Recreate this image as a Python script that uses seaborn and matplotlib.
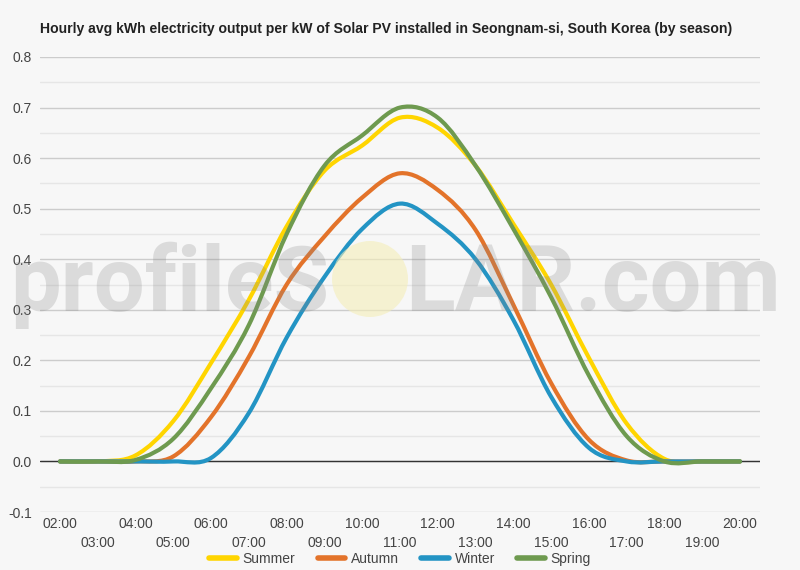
import numpy as np
import pandas as pd
import matplotlib
matplotlib.use("Agg")
import matplotlib.pyplot as plt
import seaborn as sns
from matplotlib.path import Path
from matplotlib.patches import PathPatch, Ellipse
from matplotlib.ticker import FixedLocator, MultipleLocator

# hourly averages (kWh per kW installed)
hours = list(range(2, 21))
summer = [0, 0, 0.012, 0.08, 0.195, 0.32, 0.465, 0.575, 0.625, 0.68, 0.66, 0.585, 0.47, 0.35, 0.205, 0.075, 0.005, 0, 0]
autumn = [0, 0, 0, 0.01, 0.088, 0.207, 0.35, 0.445, 0.522, 0.57, 0.537, 0.458, 0.31, 0.155, 0.043, 0.002, 0, 0, 0]
winter = [0, 0, 0, 0, 0.007, 0.096, 0.245, 0.365, 0.46, 0.51, 0.47, 0.40, 0.28, 0.128, 0.027, 0, 0, 0, 0]
spring = [0, 0, 0.003, 0.045, 0.145, 0.27, 0.45, 0.585, 0.645, 0.70, 0.68, 0.585, 0.46, 0.325, 0.17, 0.05, 0.0, 0, 0]

seasons = ["Summer", "Autumn", "Winter", "Spring"]
colors = ["#FFD500", "#E3732A", "#2394C4", "#6E9A4F"]
hour_labels = [f"{h:02d}:00" for h in hours]

title = "Hourly avg kWh electricity output per kW of Solar PV installed in Seongnam-si, South Korea (by season)"

df = pd.DataFrame({
    "hour": hours * 4,
    "kwh": summer + autumn + winter + spring,
    "season": np.repeat(seasons, len(hours)),
})

bg = "#f7f7f7"
sns.set_theme(style="white", rc={"figure.facecolor": bg, "axes.facecolor": bg})
plt.rcParams["font.family"] = ["Liberation Sans", "DejaVu Sans"]


def smooth_path(xy):
    # catmull-rom style bezier through the points (like the original "function" curve)
    n = len(xy)
    verts = [xy[0]]
    codes = [Path.MOVETO]
    for i in range(n - 1):
        p0 = xy[max(i - 1, 0)]
        p1 = xy[i]
        p2 = xy[i + 1]
        p3 = xy[min(i + 2, n - 1)]
        verts += [p1 + (p2 - p0) / 6, p2 - (p3 - p1) / 6, p2]
        codes += [Path.CURVE4] * 3
    return Path(verts, codes)


fig = plt.figure(figsize=(8, 5.7), dpi=100)
ax = fig.add_axes([40 / 800, 58 / 570, 720 / 800, 455 / 570])

sns.lineplot(data=df, x="hour", y="kwh", hue="season", hue_order=seasons,
             palette=colors, linewidth=3, ax=ax)

# swap the straight segments for smooth curves through the same points
for line in list(ax.lines):
    xy = line.get_xydata()
    if len(xy) < 2:
        continue
    col = line.get_color()
    line.remove()
    ax.add_patch(PathPatch(smooth_path(xy), facecolor="none", edgecolor=col,
                           lw=3, capstyle="round", joinstyle="round", zorder=3))

ax.set_xlim(2 - 20 / 37.78, 20 + 20 / 37.78)
ax.set_ylim(-0.1, 0.8)
ax.set_xlabel("")
ax.set_ylabel("")

ax.xaxis.set_major_locator(FixedLocator(hours[::2]))
ax.xaxis.set_minor_locator(FixedLocator(hours[1::2]))
ax.set_xticklabels(hour_labels[::2])
ax.set_xticklabels(hour_labels[1::2], minor=True)
ax.tick_params(axis="x", which="major", length=0, pad=3.5, labelsize=10, labelcolor="#444444")
ax.tick_params(axis="x", which="minor", length=0, pad=17, labelsize=10, labelcolor="#444444")

ax.set_yticks(np.round(np.arange(-0.1, 0.81, 0.1), 1))
ax.set_yticklabels([f"{v:.1f}" for v in np.arange(-0.1, 0.81, 0.1)])
ax.yaxis.set_minor_locator(MultipleLocator(0.05))
ax.tick_params(axis="y", which="both", length=0, pad=6, labelsize=10, labelcolor="#444444")

ax.grid(axis="y", which="major", color="#cccccc", lw=1)
ax.grid(axis="y", which="minor", color="#e6e6e6", lw=1)
ax.grid(axis="x", visible=False)
ax.set_axisbelow(True)
ax.axhline(0, color="#333333", lw=1, zorder=2)
sns.despine(ax=ax, left=True, bottom=True)

sns.move_legend(ax, "center", bbox_to_anchor=(0.5, 11 / 570), bbox_transform=fig.transFigure,
                ncol=4, frameon=False, title=None, fontsize=10, handlelength=2.0,
                handletextpad=0.4, columnspacing=1.6)
leg = ax.get_legend()
for h in leg.legend_handles:
    h.set_linewidth(4)
for t in leg.get_texts():
    t.set_color("#444444")

fig.text(40 / 800, (570 - 33) / 570, title, fontsize=10.1, fontweight="bold",
         color="#222222", ha="left", va="baseline")

# watermark, drawn over the lines like the original
fig.add_artist(Ellipse((370 / 800, (570 - 279) / 570), 76 / 800, 76 / 570,
                       color="#f5eeb8", alpha=0.6, lw=0, zorder=4))
fig.text(329 / 800, (570 - 311) / 570, "profileS", fontsize=65, fontweight="bold",
         family="Roboto", color="#888888", alpha=0.25, ha="right", va="baseline", zorder=5)
fig.text(405 / 800, (570 - 311) / 570, "LAR.com", fontsize=66, fontweight="bold",
         family="Roboto", color="#888888", alpha=0.25, ha="left", va="baseline", zorder=5)

fig.savefig("out.png", dpi=100, facecolor=bg)
